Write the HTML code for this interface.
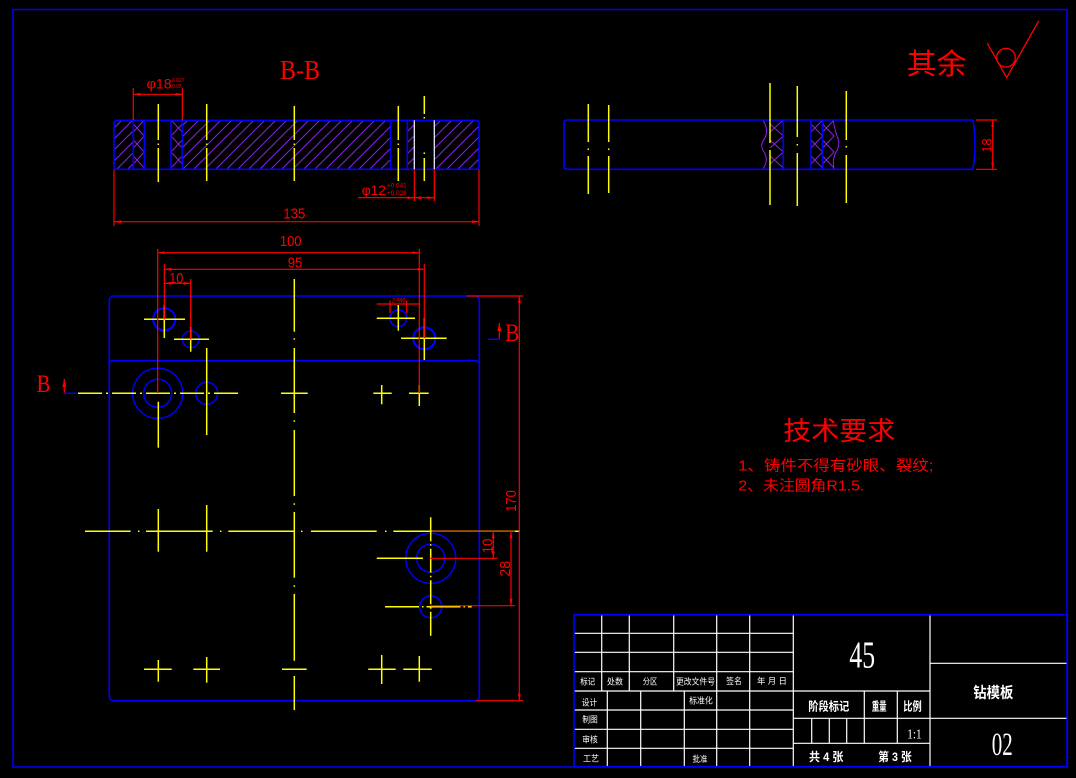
<!DOCTYPE html>
<html><head><meta charset="utf-8">
<style>
html,body{margin:0;padding:0;background:#000;}
svg{display:block}
text{font-family:"Liberation Sans","Noto Sans CJK SC",sans-serif}
.cjk{font-family:"Liberation Sans","Noto Sans CJK SC",sans-serif}
.ser{font-family:"Liberation Serif","Noto Serif CJK SC",serif}
</style></head><body>
<svg width="1076" height="778" viewBox="0 0 1076 778" xmlns="http://www.w3.org/2000/svg">
<defs>
<marker id="a" viewBox="0 0 7 3" refX="7" refY="1.5" markerWidth="7" markerHeight="3" markerUnits="userSpaceOnUse" orient="auto-start-reverse"><path d="M0,0L7,1.5L0,3z" fill="#f00"/></marker>
<marker id="b" viewBox="0 0 8 4" refX="8" refY="2" markerWidth="8" markerHeight="4" markerUnits="userSpaceOnUse" orient="auto-start-reverse"><path d="M0,0L8,2L0,4z" fill="#f00"/></marker>
<pattern id="h" width="11" height="11" patternUnits="userSpaceOnUse"><path d="M-1,12L12,-1M-1,1L1,-1M10,12L12,10" stroke="#8a22e6" stroke-width="1"/></pattern>
<clipPath id="c1"><rect x="133.3" y="120.3" width="11" height="49"/></clipPath>
<clipPath id="c2"><rect x="171" y="120.3" width="11.3" height="49"/></clipPath>
<clipPath id="c3"><rect x="768" y="120" width="15.3" height="49.3"/></clipPath>
<clipPath id="c4"><rect x="811" y="120" width="11.7" height="49.3"/></clipPath>
<clipPath id="c5"><rect x="822.7" y="120" width="12" height="49.3"/></clipPath>
</defs>

<!-- outer frame -->
<rect x="13" y="9.5" width="1054" height="757.5" fill="none" stroke="#0000ff" stroke-width="1.5"/>

<!-- ============ B-B SECTION ============ -->
<text x="300" y="79" class="ser" font-size="27" fill="#f00" text-anchor="middle" textLength="40" lengthAdjust="spacingAndGlyphs">B-B</text>
<rect x="114" y="120.3" width="19.3" height="49" fill="url(#h)"/>
<rect x="182.3" y="120.3" width="208.4" height="49" fill="url(#h)"/>
<rect x="407.3" y="120.3" width="7" height="49" fill="url(#h)"/>
<rect x="434.3" y="120.3" width="44.7" height="49" fill="url(#h)"/>
<g stroke="#8a22e6" stroke-width="1" fill="none">
<path clip-path="url(#c1)" d="M133.3,108L144.3,120L133.3,132M133.3,124L144.3,136L133.3,148M133.3,140L144.3,152L133.3,164M133.3,156L144.3,168L133.3,180"/>
<path clip-path="url(#c2)" d="M182.3,108L171,120L182.3,132M182.3,124L171,136L182.3,148M182.3,140L171,152L182.3,164M182.3,156L171,168L182.3,180"/>
</g>
<rect x="114" y="120.3" width="365" height="49" rx="3" fill="none" stroke="#0000ff" stroke-width="1.6"/>
<g stroke="#0000ff" stroke-width="1.6">
<line x1="133.3" y1="120.3" x2="133.3" y2="169.3"/>
<line x1="144.3" y1="120.3" x2="144.3" y2="169.3"/>
<line x1="171" y1="120.3" x2="171" y2="169.3"/>
<line x1="182.3" y1="120.3" x2="182.3" y2="169.3"/>
<line x1="390.7" y1="120.3" x2="390.7" y2="169.3"/>
<line x1="407.3" y1="120.3" x2="407.3" y2="169.3"/>
</g>
<g stroke="#e8e8ff" stroke-width="1.3">
<line x1="414.3" y1="120.3" x2="414.3" y2="169.3"/>
<line x1="434.3" y1="120.3" x2="434.3" y2="169.3"/>
</g>
<g stroke="#ffff00" stroke-width="1.5">
<line x1="158.3" y1="104" x2="158.3" y2="140"/><line x1="158.3" y1="143.5" x2="158.3" y2="145"/><line x1="158.3" y1="148" x2="158.3" y2="182"/>
<line x1="206.7" y1="104" x2="206.7" y2="140"/><line x1="206.7" y1="143.5" x2="206.7" y2="145"/><line x1="206.7" y1="148" x2="206.7" y2="181"/>
<line x1="294.3" y1="106" x2="294.3" y2="140"/><line x1="294.3" y1="143.5" x2="294.3" y2="145"/><line x1="294.3" y1="148" x2="294.3" y2="181"/>
<line x1="398.3" y1="106" x2="398.3" y2="140"/><line x1="398.3" y1="143.5" x2="398.3" y2="145"/><line x1="398.3" y1="148" x2="398.3" y2="181"/>
<line x1="424.3" y1="96" x2="424.3" y2="114"/><line x1="424.3" y1="117" x2="424.3" y2="118.5"/><line x1="424.3" y1="152.5" x2="424.3" y2="154"/><line x1="424.3" y1="158" x2="424.3" y2="181"/>
</g>
<g stroke="#f00" stroke-width="1.2" fill="none">
<line x1="133.3" y1="88" x2="133.3" y2="120.3"/>
<line x1="182.3" y1="88" x2="182.3" y2="120.3"/>
<line x1="133.3" y1="94.3" x2="182.3" y2="94.3" marker-start="url(#a)" marker-end="url(#a)"/>
<line x1="114" y1="169.3" x2="114" y2="226"/>
<line x1="479" y1="169.3" x2="479" y2="226"/>
<line x1="114" y1="221.7" x2="479" y2="221.7" marker-start="url(#a)" marker-end="url(#a)"/>
<line x1="414.3" y1="169.3" x2="414.3" y2="201"/>
<line x1="434.3" y1="169.3" x2="434.3" y2="201"/>
<line x1="358" y1="197.7" x2="414.3" y2="197.7" marker-end="url(#a)"/>
<line x1="414.3" y1="197.7" x2="434.3" y2="197.7" marker-start="url(#a)" marker-end="url(#a)"/>
</g>
<text x="146.7" y="88.3" font-size="14" fill="#f00" textLength="25" lengthAdjust="spacingAndGlyphs">φ18</text>
<text x="172" y="82" font-size="5" fill="#f00">0.027</text>
<text x="172" y="88" font-size="5" fill="#f00">0.05</text>
<text x="294.3" y="218.3" font-size="15" fill="#f00" text-anchor="middle" textLength="22" lengthAdjust="spacingAndGlyphs">135</text>
<text x="361.7" y="195" font-size="14" fill="#f00" textLength="24.3" lengthAdjust="spacingAndGlyphs">φ12</text>
<text x="387" y="187.7" font-size="6.5" fill="#f00" textLength="19.7" lengthAdjust="spacingAndGlyphs">+0.041</text>
<text x="387" y="195" font-size="6.5" fill="#f00" textLength="19.7" lengthAdjust="spacingAndGlyphs">+0.028</text>

<!-- ============ SIDE VIEW ============ -->
<g stroke="#8a22e6" stroke-width="1" fill="none">
<path clip-path="url(#c3)" d="M770,108L783.3,120L770,132M770,124L783.3,136L770,148M770,140L783.3,152L770,164M770,156L783.3,168L770,180"/>
<path clip-path="url(#c4)" d="M811,108L822.7,120L811,132M811,124L822.7,136L811,148M811,140L822.7,152L811,164M811,156L822.7,168L811,180"/>
<path clip-path="url(#c5)" d="M822.7,108L834,120L822.7,132M822.7,124L834,136L822.7,148M822.7,140L834,152L822.7,164M822.7,156L834,168L822.7,180"/>
<path d="M763,120Q769,130 765,138Q759,145 764,152Q769,160 763,169"/>
<path d="M833,120Q835,130 837,136Q841,145 836,152Q832,160 834,169"/>
</g>
<path d="M567,120L973,120Q977,144.6 973,169.3L567,169.3Q564,169.3 564,166L564,123Q564,120 567,120Z" fill="none" stroke="#0000ff" stroke-width="1.6"/>
<g stroke="#0000ff" stroke-width="1.6">
<line x1="783.3" y1="120" x2="783.3" y2="169.3"/>
<line x1="811" y1="120" x2="811" y2="169.3"/>
<line x1="822.7" y1="120" x2="822.7" y2="169.3"/>
</g>
<g stroke="#ffff00" stroke-width="1.5">
<line x1="588.3" y1="104" x2="588.3" y2="142"/><line x1="588.3" y1="148.5" x2="588.3" y2="150"/><line x1="588.3" y1="156" x2="588.3" y2="194"/>
<line x1="608.7" y1="105" x2="608.7" y2="142"/><line x1="608.7" y1="148.5" x2="608.7" y2="150"/><line x1="608.7" y1="156" x2="608.7" y2="193"/>
<line x1="770" y1="83" x2="770" y2="143"/><line x1="770" y1="150" x2="770" y2="205"/>
<line x1="797.3" y1="86" x2="797.3" y2="137"/><line x1="797.3" y1="144" x2="797.3" y2="145.5"/><line x1="797.3" y1="153" x2="797.3" y2="206"/>
<line x1="846.3" y1="91" x2="846.3" y2="140"/><line x1="846.3" y1="146" x2="846.3" y2="147.5"/><line x1="846.3" y1="155" x2="846.3" y2="203"/>
</g>
<g stroke="#f00" stroke-width="1.2">
<line x1="976" y1="120" x2="997" y2="120"/>
<line x1="976" y1="169.3" x2="997" y2="169.3"/>
<line x1="992.7" y1="120" x2="992.7" y2="169.3" marker-start="url(#a)" marker-end="url(#a)"/>
</g>
<text transform="translate(986.5,145.5) rotate(-90)" font-size="14" fill="#f00" text-anchor="middle" dy="5" textLength="14" lengthAdjust="spacingAndGlyphs">18</text>

<!-- surface finish -->
<text x="906.7" y="74" class="cjk" font-size="29" fill="#f00" textLength="60" lengthAdjust="spacingAndGlyphs">其余</text>
<g stroke="#f00" stroke-width="1.3" fill="none">
<path d="M987.3,43.3L1006.7,77.7L1038.7,21"/>
<circle cx="1006" cy="57.7" r="9.3"/>
</g>

<!-- ============ PLAN VIEW ============ -->
<rect x="109.3" y="296" width="370" height="404.7" rx="4" fill="none" stroke="#0000ff" stroke-width="1.6"/>
<path d="M109.3,365Q109.3,360.7 113.5,360.7L475,360.7Q479.3,360.7 479.3,365" fill="none" stroke="#0000ff" stroke-width="1.6"/>

<!-- circles -->
<g stroke="#0000ff" fill="none" stroke-width="1.5">
<circle cx="164.3" cy="319.3" r="11" stroke-width="2.2"/>
<circle cx="190.7" cy="339.3" r="8.3"/>
<circle cx="157.7" cy="393.3" r="25"/>
<circle cx="157.7" cy="393.3" r="14"/>
<circle cx="206.7" cy="393.3" r="11"/>
<circle cx="398.3" cy="318.3" r="8.3"/>
<circle cx="424.3" cy="338.3" r="11" stroke-width="2.2"/>
<circle cx="430.7" cy="558.3" r="25"/>
<circle cx="430.7" cy="558.3" r="14"/>
<circle cx="430.7" cy="606.7" r="11"/>
</g>

<!-- yellow center lines -->
<g stroke="#ffff00" stroke-width="1.5" fill="none">
<line x1="294.3" y1="279" x2="294.3" y2="331.7"/><line x1="294.3" y1="338.3" x2="294.3" y2="339.8"/>
<line x1="294.3" y1="348" x2="294.3" y2="413"/><line x1="294.3" y1="420.3" x2="294.3" y2="421.8"/>
<line x1="294.3" y1="430" x2="294.3" y2="496"/><line x1="294.3" y1="503.3" x2="294.3" y2="504.8"/>
<line x1="294.3" y1="512" x2="294.3" y2="577.7"/><line x1="294.3" y1="585.3" x2="294.3" y2="586.8"/>
<line x1="294.3" y1="594" x2="294.3" y2="660.7"/><line x1="294.3" y1="676" x2="294.3" y2="710"/>
<line x1="85" y1="531.3" x2="130.7" y2="531.3"/><line x1="138" y1="531.3" x2="139.5" y2="531.3"/>
<line x1="146" y1="531.3" x2="212.7" y2="531.3"/><line x1="220" y1="531.3" x2="221.5" y2="531.3"/>
<line x1="228.3" y1="531.3" x2="294" y2="531.3"/><line x1="301" y1="531.3" x2="302.5" y2="531.3"/>
<line x1="311" y1="531.3" x2="376.7" y2="531.3"/><line x1="385" y1="531.3" x2="386.5" y2="531.3"/>
<line x1="393.3" y1="531.3" x2="520" y2="531.3"/>
<line x1="78" y1="393.3" x2="239" y2="393.3" stroke-dasharray="24 4 2 4"/>
<line x1="144" y1="319.3" x2="185" y2="319.3"/><line x1="164.3" y1="305" x2="164.3" y2="338"/>
<line x1="174" y1="339.3" x2="209" y2="339.3"/><line x1="190.7" y1="327" x2="190.7" y2="351.7"/>
<line x1="158.3" y1="401.7" x2="158.3" y2="447.7"/>
<line x1="206.7" y1="348" x2="206.7" y2="435"/>
<line x1="376.7" y1="318.3" x2="415" y2="318.3"/><line x1="398.3" y1="305" x2="398.3" y2="330.7"/>
<line x1="401" y1="338.3" x2="446.7" y2="338.3"/><line x1="424.3" y1="318" x2="424.3" y2="360"/>
<line x1="281" y1="393.3" x2="307.7" y2="393.3"/>
<line x1="373.3" y1="393.3" x2="391.7" y2="393.3"/><line x1="381.7" y1="385" x2="381.7" y2="404.3"/>
<line x1="409" y1="393.3" x2="428.7" y2="393.3"/><line x1="419.3" y1="385" x2="419.3" y2="406"/>
<line x1="158.3" y1="509" x2="158.3" y2="551.7"/>
<line x1="206.7" y1="505" x2="206.7" y2="551.7"/>
<line x1="430.7" y1="517.3" x2="430.7" y2="638.3" stroke-dasharray="24 3 1.5 3"/>
<line x1="376.7" y1="558.3" x2="423" y2="558.3"/>
<line x1="385" y1="606.7" x2="471.7" y2="606.7" stroke-dasharray="34 3 1.5 3"/>
<line x1="144" y1="669.3" x2="171.7" y2="669.3"/><line x1="158.3" y1="660" x2="158.3" y2="681.7"/>
<line x1="193.3" y1="669.3" x2="220" y2="669.3"/><line x1="206.7" y1="657" x2="206.7" y2="682.7"/>
<line x1="282" y1="669.3" x2="306.7" y2="669.3"/>
<line x1="368.3" y1="669.3" x2="395.7" y2="669.3"/><line x1="381.7" y1="655" x2="381.7" y2="684"/>
<line x1="403.3" y1="669.3" x2="431.7" y2="669.3"/><line x1="419.3" y1="656" x2="419.3" y2="681.7"/>
</g>

<!-- red dimensions plan view -->
<g stroke="#f00" stroke-width="1.2" fill="none">
<line x1="157.7" y1="249" x2="157.7" y2="393.3"/>
<line x1="419.3" y1="249" x2="419.3" y2="393.3"/>
<line x1="157.7" y1="252.7" x2="419.3" y2="252.7" marker-start="url(#a)" marker-end="url(#a)"/>
<line x1="164.3" y1="264" x2="164.3" y2="319.3"/>
<line x1="424.3" y1="264" x2="424.3" y2="338.3"/>
<line x1="164.3" y1="269.3" x2="424.3" y2="269.3" marker-start="url(#a)" marker-end="url(#a)"/>
<line x1="190.7" y1="279" x2="190.7" y2="339.3"/>
<line x1="164.3" y1="283.3" x2="190.7" y2="283.3" marker-start="url(#a)" marker-end="url(#a)"/>
<line x1="376.7" y1="304" x2="420" y2="304"/>
<line x1="390" y1="300.7" x2="390" y2="313"/>
<line x1="406.7" y1="300.7" x2="406.7" y2="313"/>
<line x1="466.7" y1="296" x2="523" y2="296"/>
<line x1="476" y1="700.7" x2="523" y2="700.7"/>
<line x1="519.3" y1="296" x2="519.3" y2="700.7" marker-start="url(#a)" marker-end="url(#a)"/>
<line x1="431.7" y1="531.3" x2="515" y2="531.3"/>
<line x1="430" y1="558.3" x2="497.7" y2="558.3"/>
<line x1="430" y1="605.7" x2="515" y2="605.7"/>
<line x1="493.3" y1="531.3" x2="493.3" y2="558.3" marker-start="url(#a)" marker-end="url(#a)"/>
<line x1="511" y1="531.3" x2="511" y2="605.7" marker-start="url(#a)" marker-end="url(#a)"/>
<line x1="64.3" y1="393.3" x2="64.3" y2="379" marker-end="url(#b)"/>
<line x1="499.3" y1="339.3" x2="499.3" y2="323" marker-end="url(#b)"/>
</g>
<g stroke="#0000ff" stroke-width="1.5">
<line x1="64.3" y1="393.3" x2="76.7" y2="393.3"/>
<line x1="488.3" y1="339.3" x2="499.3" y2="339.3"/>
</g>
<text x="290.7" y="246" font-size="15" fill="#f00" text-anchor="middle" textLength="21.7" lengthAdjust="spacingAndGlyphs">100</text>
<text x="295" y="267.7" font-size="15" fill="#f00" text-anchor="middle" textLength="14.6" lengthAdjust="spacingAndGlyphs">95</text>
<text x="176.3" y="283" font-size="15" fill="#f00" text-anchor="middle" textLength="14" lengthAdjust="spacingAndGlyphs">10</text>
<text x="398.7" y="302.7" font-size="6" fill="#f00" text-anchor="middle">2-M6</text>
<text transform="translate(510.5,501) rotate(-90)" font-size="15" fill="#f00" text-anchor="middle" dy="5.4" textLength="21.7" lengthAdjust="spacingAndGlyphs">170</text>
<text transform="translate(487,546) rotate(-90)" font-size="15" fill="#f00" text-anchor="middle" dy="5.4" textLength="15" lengthAdjust="spacingAndGlyphs">10</text>
<text transform="translate(504.7,568.8) rotate(-90)" font-size="15" fill="#f00" text-anchor="middle" dy="5.4" textLength="15.7" lengthAdjust="spacingAndGlyphs">28</text>
<text x="36.5" y="392" class="ser" font-size="25" fill="#f00" textLength="14" lengthAdjust="spacingAndGlyphs">B</text>
<text x="505" y="341" class="ser" font-size="25" fill="#f00" textLength="14.5" lengthAdjust="spacingAndGlyphs">B</text>

<!-- ============ TECH REQUIREMENTS ============ -->
<text x="783.3" y="440" class="cjk" font-size="26" fill="#f00" textLength="112" lengthAdjust="spacingAndGlyphs">技术要求</text>
<text x="738.3" y="470.5" class="cjk" font-size="15" fill="#f00" textLength="195" lengthAdjust="spacingAndGlyphs">1、铸件不得有砂眼、裂纹;</text>
<text x="738.3" y="490.5" class="cjk" font-size="15" fill="#f00" textLength="126" lengthAdjust="spacingAndGlyphs">2、未注圆角R1.5.</text>

<!-- ============ TITLE BLOCK ============ -->
<g stroke="#ffffff" stroke-width="1.2" fill="none">
<line x1="574" y1="633.3" x2="793.3" y2="633.3"/>
<line x1="574" y1="652.3" x2="793.3" y2="652.3"/>
<line x1="574" y1="671.7" x2="793.3" y2="671.7"/>
<line x1="574" y1="691" x2="930" y2="691"/>
<line x1="574" y1="710" x2="793.3" y2="710"/>
<line x1="574" y1="729.3" x2="793.3" y2="729.3"/>
<line x1="574" y1="748.3" x2="793.3" y2="748.3"/>
<line x1="601.7" y1="614.7" x2="601.7" y2="691"/>
<line x1="629.3" y1="614.7" x2="629.3" y2="691"/>
<line x1="673.7" y1="614.7" x2="673.7" y2="691"/>
<line x1="716.7" y1="614.7" x2="716.7" y2="766.7"/>
<line x1="749.7" y1="614.7" x2="749.7" y2="766.7"/>
<line x1="607.3" y1="691" x2="607.3" y2="766.7"/>
<line x1="640.7" y1="691" x2="640.7" y2="766.7"/>
<line x1="684.3" y1="691" x2="684.3" y2="766.7"/>
<line x1="793.3" y1="614.7" x2="793.3" y2="766.7"/>
<line x1="930" y1="614.7" x2="930" y2="766.7"/>
<line x1="793.3" y1="718.3" x2="1067" y2="718.3"/>
<line x1="793.3" y1="743.3" x2="930" y2="743.3"/>
<line x1="930" y1="663.3" x2="1067" y2="663.3"/>
<line x1="864.3" y1="691" x2="864.3" y2="743.3"/>
<line x1="897.3" y1="691" x2="897.3" y2="743.3"/>
<line x1="811.7" y1="718.3" x2="811.7" y2="743.3"/>
<line x1="829.3" y1="718.3" x2="829.3" y2="743.3"/>
<line x1="846.7" y1="718.3" x2="846.7" y2="743.3"/>
</g>
<rect x="574" y="614.7" width="493.3" height="152" fill="none" stroke="#0000ff" stroke-width="1.6"/>

<g fill="#ffffff" class="cjk" font-size="8.5" text-anchor="middle">
<text x="587.7" y="684.5" textLength="15" lengthAdjust="spacingAndGlyphs">标记</text>
<text x="615" y="684.5" textLength="16" lengthAdjust="spacingAndGlyphs">处数</text>
<text x="650" y="684.5" textLength="14.5" lengthAdjust="spacingAndGlyphs">分区</text>
<text x="695.5" y="684.5" textLength="39" lengthAdjust="spacingAndGlyphs">更改文件号</text>
<text x="734" y="684" textLength="15.7" lengthAdjust="spacingAndGlyphs">签名</text>
<text x="772" y="684" textLength="30" lengthAdjust="spacingAndGlyphs">年 月 日</text>
<text x="589.5" y="705.3" textLength="15.5" lengthAdjust="spacingAndGlyphs">设计</text>
<text x="701" y="703.7" textLength="23.7" lengthAdjust="spacingAndGlyphs">标准化</text>
<text x="590" y="722.3" textLength="15.5" lengthAdjust="spacingAndGlyphs">制图</text>
<text x="590" y="742.3" textLength="15.5" lengthAdjust="spacingAndGlyphs">审核</text>
<text x="591" y="761.3" textLength="16" lengthAdjust="spacingAndGlyphs">工艺</text>
<text x="700" y="762" textLength="15" lengthAdjust="spacingAndGlyphs">批准</text>
</g>
<g fill="#ffffff" font-weight="bold" class="cjk" text-anchor="middle">
<text x="828.8" y="710.5" font-size="12" textLength="41" lengthAdjust="spacingAndGlyphs">阶段标记</text>
<text x="879.2" y="710.5" font-size="12" textLength="15" lengthAdjust="spacingAndGlyphs">重量</text>
<text x="912.5" y="710.5" font-size="12" textLength="18.4" lengthAdjust="spacingAndGlyphs">比例</text>
<text x="826.2" y="761" font-size="12" textLength="34.3" lengthAdjust="spacingAndGlyphs">共 4 张</text>
<text x="895" y="761" font-size="12" textLength="33.4" lengthAdjust="spacingAndGlyphs">第 3 张</text>
<text x="993.3" y="697.5" font-size="15" textLength="40" lengthAdjust="spacingAndGlyphs">钻模板</text>
</g>
<text x="862.2" y="667.3" class="ser" font-size="38" fill="#fff" text-anchor="middle" textLength="25.7" lengthAdjust="spacingAndGlyphs">45</text>
<text x="914.5" y="738.3" class="ser" font-size="14" fill="#fff" text-anchor="middle" textLength="14.4" lengthAdjust="spacingAndGlyphs">1:1</text>
<text x="1002.2" y="755" class="ser" font-size="33" fill="#fff" text-anchor="middle" textLength="21" lengthAdjust="spacingAndGlyphs">02</text>
</svg>
</body></html>
